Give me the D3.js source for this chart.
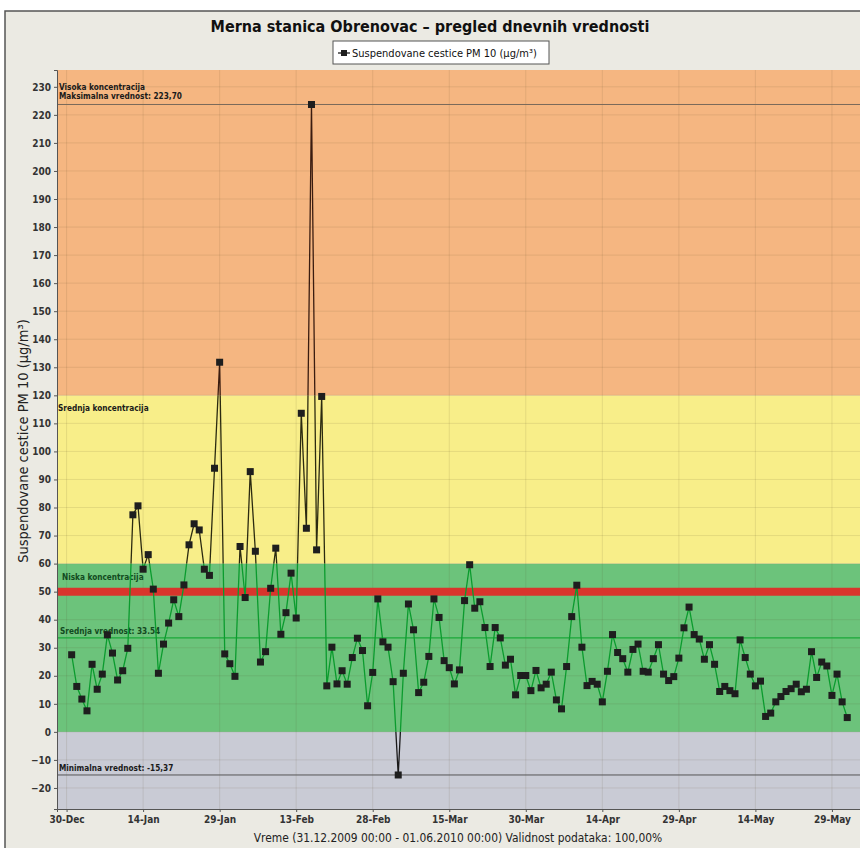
<!DOCTYPE html>
<html>
<head>
<meta charset="utf-8">
<script src="https://cdn.jsdelivr.net/npm/d3@7"></script>
<style>
	body { margin: 0; background: #fff; }
	text { font-family: 'DejaVu Sans Condensed', 'DejaVu Sans', sans-serif; }
</style>
</head>
<body>
<svg width="860" height="848"></svg>
<script>
// daily PM10 values, 31.12.2009 - 01.06.2010
const startDay = new Date(2009, 11, 31);
const pmDec = [27.5];
const pmJan = [16.2, 11.7, 7.5, 24.1, 15.2, 20.6, 34.6, 28.1, 18.5, 21.8, 29.8, 77.4, 80.6, 58.0, 63.2, 50.9,
	20.9, 31.3, 38.8, 47.1, 41.1, 52.4, 66.7, 74.2, 72.0, 58.0, 55.8, 94.0, 131.8, 27.8, 24.3];
const pmFeb = [19.8, 66.1, 47.9, 92.8, 64.4, 24.9, 28.6, 51.2, 65.5, 34.8, 42.5, 56.6, 40.6, 113.6, 72.6,
	223.7, 64.9, 119.6, 16.4, 30.2, 17.1, 21.8, 17.0, 26.5, 33.4, 29.0, 9.3, 21.2];
const pmMar = [47.4, 32.1, 30.2, 17.9, -15.37, 20.9, 45.6, 36.4, 14.0, 17.7, 26.9, 47.4, 40.8, 25.4, 22.9, 17.1,
	22.1, 46.8, 59.6, 44.1, 46.4, 37.2, 23.3, 37.2, 33.5, 23.8, 25.9, 13.2, 20.1, 20.1, 14.7];
const pmApr = [21.9, 15.7, 17.0, 21.3, 11.4, 8.2, 23.3, 41.1, 52.3, 30.2, 16.5, 18.0, 17.0, 10.7, 21.6, 34.7,
	28.3, 26.1, 21.3, 29.4, 31.3, 21.6, 21.3, 26.1, 31.1, 20.6, 18.3, 19.7, 26.3, 37.1];
const pmMay = [44.5, 34.7, 33.1, 25.9, 31.1, 24.1, 14.4, 16.2, 14.7, 13.6, 32.8, 26.5, 20.6, 16.4, 18.1, 5.5,
	6.7, 10.7, 12.6, 14.4, 15.4, 17.0, 14.3, 15.2, 28.6, 19.4, 24.9, 23.5, 13.0, 20.6, 10.7];
const pmJun = [5.1];

// concentration bands and reference values
const bands = [
	{from: -100, to: 0, color: '#c9cbd5', line: '#1a1a1a'},
	{from: 0, to: 60, color: '#6cc37b', line: '#0b9b2e'},
	{from: 60, to: 120, color: '#f8ee89', line: '#2b2a10'},
	{from: 120, to: 400, color: '#f5b681', line: '#3a1c10'}
];
const bandLabels = [
	{value: 120, text: 'Srednja koncentracija'},
	{value: 60, text: 'Niska koncentracija'}
];
const limitValue = 50;
const maxValue = 223.70;
const minValue = -15.37;
const meanValue = 33.54;
const yTicks = d3.range(-20, 231, 10);

const title = 'Merna stanica Obrenovac \u2013 pregled dnevnih vrednosti';
const seriesName = 'Suspendovane cestice PM 10 (\u00b5g/m\u00b3)';
const xTitle = 'Vreme (31.12.2009 00:00 - 01.06.2010 00:00) Validnost podataka: 100,00%';

const values = [].concat(pmDec, pmJan, pmFeb, pmMar, pmApr, pmMay, pmJun);
const data = values.map((v, i) => {
	return {date: d3.timeDay.offset(startDay, i), value: v};
});

const svg = d3.select('svg');
const plotLeft = 57;
const plotRight = 860;
const plotTop = 70;
const plotBottom = 809;

// outer panel
svg.append('rect')
	.attr('x', 5).attr('y', 11)
	.attr('width', 860).attr('height', 850)
	.attr('fill', '#ebeae3')
	.attr('stroke', '#555')
	.attr('stroke-width', 1.5);

const x = d3.scaleTime()
	.domain([new Date(2009, 11, 28, 3), new Date(2010, 5, 3, 12)])
	.range([plotLeft, plotRight]);
const y = d3.scaleLinear().domain([-27.5, 236]).range([plotBottom, plotTop]);

const xTickDates = d3.range(0, 11).map(i => {
	return d3.timeDay.offset(new Date(2009, 11, 30), i * 15);
});

svg.append('defs').selectAll('clipPath')
	.data(bands)
	.join('clipPath')
	.attr('id', (d, i) => 'band' + i)
	.append('rect')
	.attr('x', plotLeft)
	.attr('width', plotRight - plotLeft)
	.attr('y', d => Math.max(plotTop, y(d.to)))
	.attr('height', d => Math.min(plotBottom, y(d.from)) - Math.max(plotTop, y(d.to)));

svg.append('g').selectAll('rect')
	.data(bands)
	.join('rect')
	.attr('x', plotLeft)
	.attr('width', plotRight - plotLeft)
	.attr('y', d => Math.max(plotTop, y(d.to)))
	.attr('height', d => Math.min(plotBottom, y(d.from)) - Math.max(plotTop, y(d.to)))
	.attr('fill', d => d.color);

// grid
const grid = svg.append('g').attr('stroke', 'rgba(90,70,40,0.12)').attr('stroke-width', 1);
grid.selectAll('line.h')
	.data(yTicks)
	.join('line')
	.attr('class', 'h')
	.attr('x1', plotLeft).attr('x2', plotRight)
	.attr('y1', d => y(d)).attr('y2', d => y(d));
grid.selectAll('line.v')
	.data(xTickDates)
	.join('line')
	.attr('class', 'v')
	.attr('y1', plotTop).attr('y2', plotBottom)
	.attr('x1', d => x(d)).attr('x2', d => x(d));

// limit line
svg.append('line')
	.attr('x1', plotLeft).attr('x2', plotRight)
	.attr('y1', y(limitValue)).attr('y2', y(limitValue))
	.attr('stroke', '#d9352c')
	.attr('stroke-width', 8);

// max / min / mean lines
svg.append('line')
	.attr('x1', plotLeft).attr('x2', plotRight)
	.attr('y1', y(maxValue)).attr('y2', y(maxValue))
	.attr('stroke', '#7a6a5a').attr('stroke-width', 1);
svg.append('line')
	.attr('x1', plotLeft).attr('x2', plotRight)
	.attr('y1', y(minValue)).attr('y2', y(minValue))
	.attr('stroke', '#555').attr('stroke-width', 1);
svg.append('line')
	.attr('x1', plotLeft).attr('x2', plotRight)
	.attr('y1', y(meanValue)).attr('y2', y(meanValue))
	.attr('stroke', '#1aa838').attr('stroke-width', 1.2);

const notes = svg.append('g')
	.attr('font-size', 8.2)
	.attr('font-weight', 'bold')
	.attr('fill', '#1a1a1a');
notes.append('text').attr('x', plotLeft + 2).attr('y', y(230) + 3).text('Visoka koncentracija');
notes.append('text').attr('x', plotLeft + 2).attr('y', y(maxValue) - 5).text('Maksimalna vrednost: 223,70');
notes.selectAll('text.band')
	.data(bandLabels)
	.join('text')
	.attr('class', 'band')
	.attr('x', (d, i) => plotLeft + (i === 1 ? 5 : 1))
	.attr('y', d => y(d.value) + 16)
	.attr('fill', (d, i) => i === 1 ? '#124a20' : '#1a1a1a')
	.text(d => d.text);
notes.append('text').attr('x', plotLeft + 3).attr('y', y(meanValue) - 4)
	.attr('fill', '#124a20').text('Srednja vrednost: 33.54');
notes.append('text').attr('x', plotLeft + 2).attr('y', y(minValue) - 4).text('Minimalna vrednost: -15,37');

// series line, coloured per band
const line = d3.line().x(d => x(d.date)).y(d => y(d.value));
svg.append('g').selectAll('path')
	.data(bands)
	.join('path')
	.attr('clip-path', (d, i) => 'url(#band' + i + ')')
	.attr('d', line(data))
	.attr('fill', 'none')
	.attr('stroke', d => d.line)
	.attr('stroke-width', 1.3);

svg.append('g').selectAll('rect')
	.data(data)
	.join('rect')
	.attr('x', d => x(d.date) - 3.5)
	.attr('y', d => y(d.value) - 3.5)
	.attr('width', 7)
	.attr('height', 7)
	.attr('fill', '#1e1e1e');

// axes
const yAxis = svg.append('g')
	.attr('transform', 'translate(' + plotLeft + ',0)')
	.call(d3.axisLeft(y).tickValues(yTicks).tickSize(3).tickPadding(3));
const xAxis = svg.append('g')
	.attr('transform', 'translate(0,' + plotBottom + ')')
	.call(d3.axisBottom(x).tickValues(xTickDates).tickSize(3).tickPadding(4)
		.tickFormat(d3.timeFormat('%d-%b')));
[yAxis, xAxis].forEach(a => {
	a.select('.domain').attr('stroke', '#555');
	a.selectAll('.tick line').attr('stroke', '#555');
	a.selectAll('.tick text')
		.attr('font-family', '\'DejaVu Sans Condensed\', sans-serif')
		.attr('font-size', 10)
		.attr('font-weight', 'bold')
		.attr('fill', '#333');
});

// titles
svg.append('text')
	.attr('x', 430).attr('y', 32)
	.attr('text-anchor', 'middle')
	.attr('font-size', 16)
	.attr('font-weight', 'bold')
	.attr('fill', '#111')
	.text(title);

const legend = svg.append('g').attr('transform', 'translate(333,41)');
legend.append('rect')
	.attr('width', 216).attr('height', 23)
	.attr('fill', '#fff')
	.attr('stroke', '#555');
legend.append('line')
	.attr('x1', 5).attr('x2', 17).attr('y1', 12).attr('y2', 12)
	.attr('stroke', '#1e1e1e').attr('stroke-width', 1.3);
legend.append('rect')
	.attr('x', 8).attr('y', 9).attr('width', 6).attr('height', 6)
	.attr('fill', '#1e1e1e');
legend.append('text')
	.attr('x', 19).attr('y', 16)
	.attr('font-size', 11)
	.attr('fill', '#111')
	.text(seriesName);

svg.append('text')
	.attr('transform', 'translate(28,' + 441 + ') rotate(-90)')
	.attr('text-anchor', 'middle')
	.attr('font-family', '\'DejaVu Sans\', sans-serif')
	.attr('font-size', 14.5)
	.attr('fill', '#222')
	.text(seriesName);

svg.append('text')
	.attr('x', 458).attr('y', 842)
	.attr('text-anchor', 'middle')
	.attr('font-family', '\'DejaVu Sans\', sans-serif')
	.attr('font-size', 11.9)
	.attr('fill', '#222')
	.text(xTitle);
</script>
</body>
</html>
